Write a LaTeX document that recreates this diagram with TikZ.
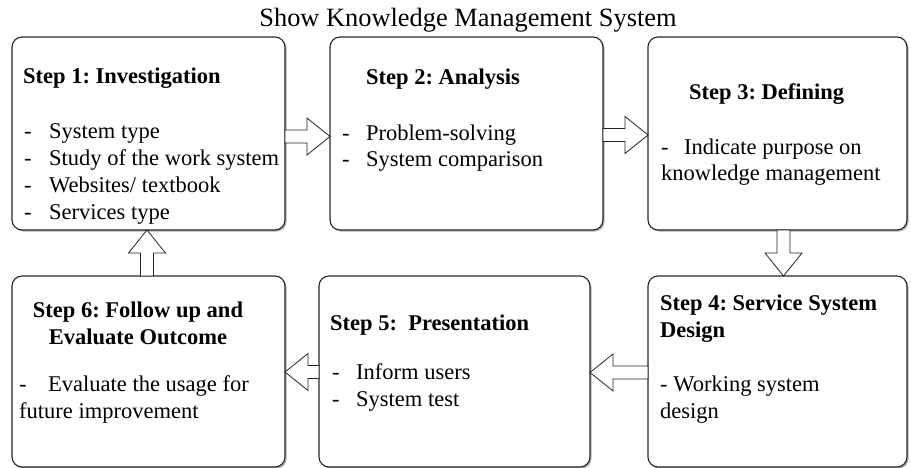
\documentclass[tikz,border=0pt]{standalone}
\usepackage{fontspec}
\setmainfont{Liberation Serif}
\frenchspacing
\usetikzlibrary{positioning}
\usetikzlibrary{calc}
\usetikzlibrary{shadows}

\begin{document}
\begin{tikzpicture}
[
x=1pt, y=-1pt,
step-a/.style={rectangle, rounded corners=10pt, draw=black!85, line width=1.1pt, fill=white,
  drop shadow={shadow xshift=1.6pt, shadow yshift=-1.6pt, fill=black!45, opacity=0.7},
  minimum width=273pt, minimum height=193pt, inner sep=0pt, outer sep=0pt},
head-a/.style={font=\bfseries\fontsize{22.5}{26.5}\selectfont, inner sep=0pt, anchor=base west, align=left},
text-a/.style={font=\fontsize{22.5}{26.5}\selectfont, inner sep=0pt, anchor=base west, align=left},
arrow-a/.style={draw=black!85, line width=0.8pt, fill=white, to path={
  let \p1=(\tikztostart), \p2=(\tikztotarget), \p3=($(\p2)!23pt!(\p1)$) in
  ($(\p1)!6.5pt!90:(\p2)$) -- ($(\p3)!6.5pt!90:(\p2)$) -- ($(\p3)!18.5pt!90:(\p2)$)
  -- (\p2) -- ($(\p3)!18.5pt!-90:(\p2)$) -- ($(\p3)!6.5pt!-90:(\p2)$)
  -- ($(\p1)!6.5pt!-90:(\p2)$) -- cycle}},
]
\useasboundingbox (0,0) rectangle (911,468);
\node (tt) [font=\fontsize{26.4}{30}\selectfont, anchor=base] at (468,27) {Show Knowledge Management System};
% boxes
\node (s1) [step-a, anchor=north west] at (12,37) {};
\node (s2) [step-a, right = 45pt of s1] {};
\node (s3) [step-a, right = 45pt of s2, minimum width=259pt] {};
\node (s6) [step-a, below = 46pt of s1, minimum height=191pt] {};
\node (s4) [step-a, below = 46pt of s3, minimum width=259pt, minimum height=191pt] {};
\node (s5) [step-a, right = 34pt of s6, minimum width=271pt, minimum height=191pt] {};
% texts (base = last line)
\node (h1) [head-a] at (23,84)  {Step 1: Investigation};
\node (b1) [text-a, font=\fontsize{22.5}{27}\selectfont] at (24,219)
  {\makebox[25pt][l]{-}System type\\ \makebox[25pt][l]{-}Study of the work system\\
   \makebox[25pt][l]{-}Websites/ textbook\\ \makebox[25pt][l]{-}Services type};
\node (h2) [head-a] at (366,85) {Step 2: Analysis};
\node (b2) [text-a] at (342,167)
  {\makebox[24pt][l]{-}Problem-solving\\ \makebox[24pt][l]{-}System comparison};
\node (h3) [head-a] at (689,100) {Step 3: Defining};
\node (b3) [text-a] at (661,181)
  {\makebox[23pt][l]{-}Indicate purpose on\\knowledge management};
\node (h4) [head-a] at (660,337) {Step 4: Service System\\Design};
\node (b4) [text-a] at (660,418) {- Working system\\design};
\node (h5) [head-a] at (330,330) {Step 5:\ \ Presentation};
\node (b5) [text-a] at (332,406)
  {\makebox[24pt][l]{-}Inform users\\ \makebox[24pt][l]{-}System test};
\node (h6) [head-a, anchor=base, align=center] at (138,344) {Step 6: Follow up and\\Evaluate Outcome};
\node (b6) [text-a] at (19,418)
  {\makebox[29pt][l]{-}Evaluate the usage for\\future improvement};
% block arrows
\draw [arrow-a] ([yshift=-3pt]s1.east) to ([yshift=-3pt]s2.west);
\draw [arrow-a] ([yshift=-1.5pt]s2.east) to ([yshift=-1.5pt]s3.west);
\draw [arrow-a] ([xshift=6pt]s3.south) to ([xshift=6pt]s4.north);
\draw [arrow-a] ([yshift=-1pt]s4.west) to ([yshift=-1pt]s5.east);
\draw [arrow-a] ([yshift=-0.5pt]s5.west) to ([yshift=-0.5pt]s6.east);
\draw [arrow-a] ([xshift=-1.5pt]s6.north) to ([xshift=-1.5pt]s1.south);
\end{tikzpicture}
\end{document}
